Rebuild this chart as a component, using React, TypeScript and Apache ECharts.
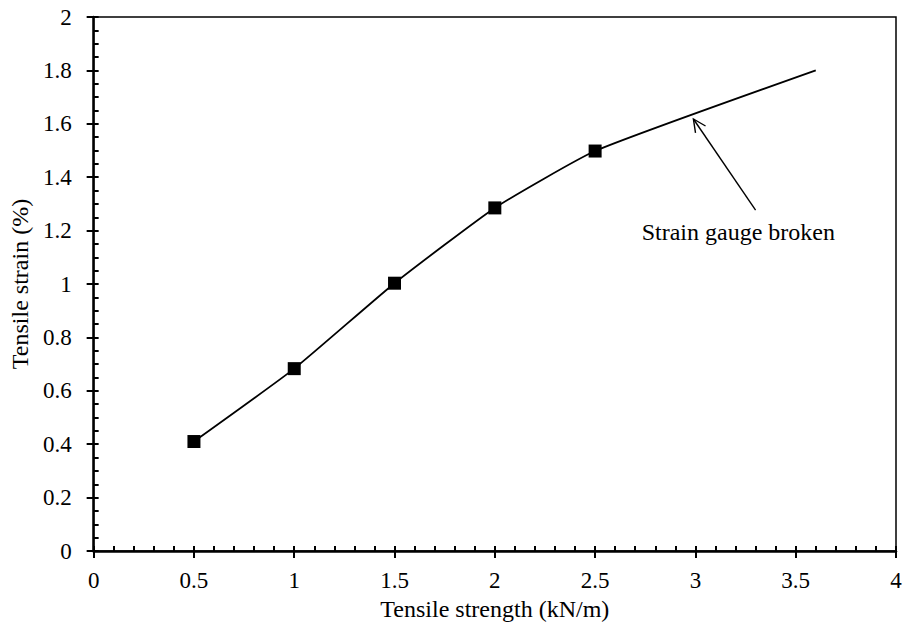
import React, { useEffect, useRef } from "react";
import * as echarts from "echarts";

const tensileStrength = [0.5, 1, 1.5, 2, 2.5];
const tensileStrain = [0.41, 0.683, 1.003, 1.285, 1.498];
const extendedStrength = [3.6];
const extendedStrain = [1.8];
const arrowTail = [3.3, 1.277];
const arrowHead = [2.99, 1.618];
const noteText = "Strain gauge broken";
const notePos = [3.214, 1.195];

const FONT = "'Liberation Serif', 'Times New Roman', serif";

export default function App() {
  const ref = useRef<HTMLDivElement>(null);
  useEffect(() => {
    if (!ref.current) return;
    document.body.style.margin = "0";
    const chart = echarts.init(ref.current, null, { renderer: "svg" });
    const lineData: any[] = tensileStrength.map((x, i) => [x, tensileStrain[i]]);
    extendedStrength.forEach((x, i) => {
      lineData.push({ value: [x, extendedStrain[i]], symbol: "none" });
    });
    const baseX = {
      type: "value",
      min: 0,
      max: 4,
      interval: 0.5,
      position: "bottom",
      splitLine: { show: false },
    };
    const baseY = {
      type: "value",
      min: 0,
      max: 2,
      interval: 0.2,
      position: "left",
      splitLine: { show: false },
    };
    chart.setOption({
      animation: false,
      backgroundColor: "#fff",
      textStyle: { fontFamily: FONT },
      grid: {
        left: 92,
        right: 18,
        top: 17,
        bottom: 78,
        show: true,
        borderColor: "#000",
        borderWidth: 1.5,
        backgroundColor: "transparent",
      },
      xAxis: [
        {
          ...baseX,
          name: "Tensile strength (kN/m)",
          nameLocation: "middle",
          nameGap: 40,
          nameTextStyle: { color: "#000", fontSize: 24, fontFamily: FONT },
          axisLine: { show: true, lineStyle: { color: "#000", width: 2.5 } },
          axisTick: { show: true, inside: true, length: 5, lineStyle: { color: "#000", width: 2 } },
          minorTick: { show: true, splitNumber: 5, length: 5, lineStyle: { color: "#000", width: 2 } },
          axisLabel: { color: "#000", fontSize: 23, fontFamily: FONT, margin: 18 },
        },
        {
          ...baseX,
          axisLine: { show: false },
          axisTick: { show: true, inside: false, length: 7, lineStyle: { color: "#000", width: 2 } },
          axisLabel: { show: false },
        },
      ],
      yAxis: [
        {
          ...baseY,
          name: "Tensile strain (%)",
          nameLocation: "middle",
          nameGap: 57,
          nameRotate: 90,
          nameTextStyle: { color: "#000", fontSize: 24, fontFamily: FONT },
          axisLine: { show: true, lineStyle: { color: "#000", width: 2.5 } },
          axisTick: { show: true, inside: true, length: 5, lineStyle: { color: "#000", width: 2 } },
          minorTick: { show: true, splitNumber: 4, length: 5, lineStyle: { color: "#000", width: 2 } },
          axisLabel: { color: "#000", fontSize: 23, fontFamily: FONT, margin: 22 },
        },
        {
          ...baseY,
          axisLine: { show: false },
          axisTick: { show: true, inside: false, length: 7, lineStyle: { color: "#000", width: 2 } },
          axisLabel: { show: false },
        },
      ],
      series: [
        {
          type: "line",
          data: lineData,
          smooth: 0.15,
          symbol: "rect",
          symbolSize: 13,
          itemStyle: { color: "#000" },
          lineStyle: { color: "#000", width: 1.8 },
          z: 3,
        },
        {
          type: "custom",
          data: [[arrowTail[0], arrowTail[1], arrowHead[0], arrowHead[1], notePos[0], notePos[1]]],
          renderItem: (params: any, api: any) => {
            const p1 = api.coord([api.value(0), api.value(1)]);
            const p2 = api.coord([api.value(2), api.value(3)]);
            const t = api.coord([api.value(4), api.value(5)]);
            const ang = Math.atan2(p2[1] - p1[1], p2[0] - p1[0]);
            const L = 14;
            const a = Math.PI / 7;
            const h1 = [p2[0] - L * Math.cos(ang - a), p2[1] - L * Math.sin(ang - a)];
            const h2 = [p2[0] - L * Math.cos(ang + a), p2[1] - L * Math.sin(ang + a)];
            return {
              type: "group",
              children: [
                {
                  type: "line",
                  shape: { x1: p1[0], y1: p1[1], x2: p2[0], y2: p2[1] },
                  style: { stroke: "#000", lineWidth: 1.4 },
                },
                {
                  type: "polyline",
                  shape: { points: [h1, p2, h2] },
                  style: { stroke: "#000", fill: "none", lineWidth: 1.4 },
                },
                {
                  type: "text",
                  x: t[0],
                  y: t[1],
                  style: {
                    text: noteText,
                    fill: "#000",
                    font: `24px ${FONT}`,
                    align: "center",
                    verticalAlign: "middle",
                  },
                },
              ],
            };
          },
          z: 4,
        },
      ],
    });
    return () => chart.dispose();
  }, []);
  return <div ref={ref} style={{ width: 914, height: 629 }} />;
}
